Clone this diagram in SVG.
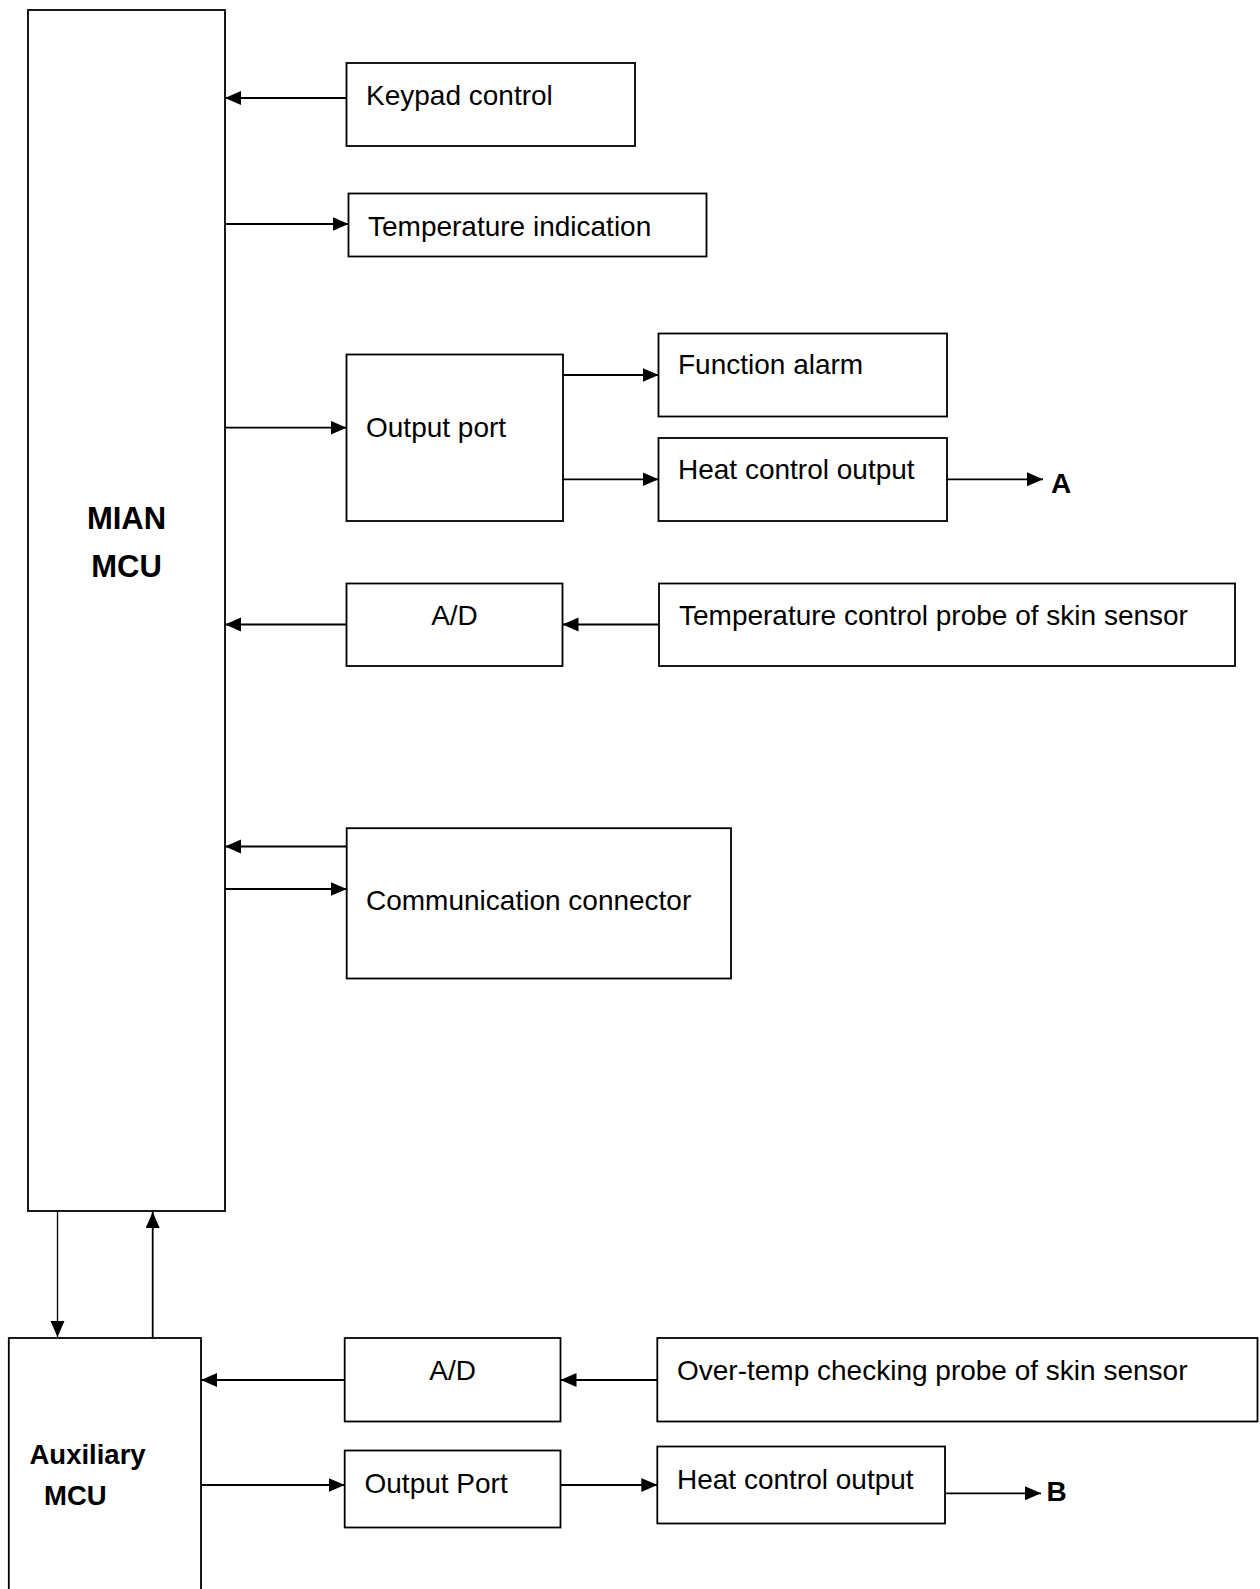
<svg xmlns="http://www.w3.org/2000/svg" width="1260" height="1589" viewBox="0 0 1260 1589">
  <style>
    .box { fill: #ffffff; stroke: #000000; stroke-width: 1.8; }
    .wire { fill: none; stroke: #000000; stroke-width: 1.8; }
    .thin { stroke-width: 1.3; }
    .lbl { font-family: "Liberation Sans", Arial, sans-serif; font-size: 28px; fill: #000000; }
    .bold { font-family: "Liberation Sans", Arial, sans-serif; font-weight: bold; fill: #000000; }
    .mid { text-anchor: middle; }
  </style>
  <defs>
    <marker id="arrow" markerUnits="userSpaceOnUse" markerWidth="17" markerHeight="15" refX="16" refY="7" orient="auto">
      <path d="M0,0 L16,7 L0,14 z" fill="#000000"/>
    </marker>
  </defs>
  <rect x="0" y="0" width="1260" height="1589" fill="#ffffff"/>

  <!-- main controller -->
  <g id="main-mcu">
    <rect class="box" x="28" y="10" width="197" height="1201"/>
    <text class="bold mid" x="126.5" y="529.3" font-size="31">MIAN</text>
    <text class="bold mid" x="126.5" y="576.7" font-size="31">MCU</text>
  </g>

  <g id="keypad-control">
    <rect class="box" x="346.5" y="63" width="288.5" height="83"/>
    <text class="lbl" x="366" y="105">Keypad control</text>
  </g>

  <g id="temperature-indication">
    <rect class="box" x="348.5" y="193.5" width="358" height="63"/>
    <text class="lbl" x="368" y="235.5">Temperature indication</text>
  </g>

  <g id="output-port">
    <rect class="box" x="346.5" y="354.5" width="216.5" height="166.5"/>
    <text class="lbl" x="366" y="436.7">Output port</text>
  </g>

  <g id="function-alarm">
    <rect class="box" x="658.5" y="333.5" width="288.5" height="83"/>
    <text class="lbl" x="678" y="374">Function alarm</text>
  </g>

  <g id="heat-control-output-a">
    <rect class="box" x="658.5" y="438" width="288.5" height="83"/>
    <text class="lbl" x="678" y="478.5">Heat control output</text>
  </g>

  <g id="label-a">
    <text class="bold" x="1051" y="493" font-size="28">A</text>
  </g>

  <g id="ad-main">
    <rect class="box" x="346.5" y="583.5" width="216" height="82.5"/>
    <text class="lbl mid" x="454.5" y="625">A/D</text>
  </g>

  <g id="skin-probe-control">
    <rect class="box" x="659" y="583.5" width="576" height="82.5"/>
    <text class="lbl" x="679" y="625">Temperature control probe of skin sensor</text>
  </g>

  <g id="communication-connector">
    <rect class="box" x="346.7" y="828.2" width="384.3" height="150.3"/>
    <text class="lbl" x="366" y="910">Communication connector</text>
  </g>

  <!-- auxiliary controller, runs off the lower edge -->
  <g id="aux-mcu">
    <rect class="box" x="8.8" y="1338" width="192.2" height="300"/>
    <text class="bold" x="29.5" y="1464" font-size="27.5">Auxiliary</text>
    <text class="bold" x="44" y="1505" font-size="27.5">MCU</text>
  </g>

  <g id="ad-aux">
    <rect class="box" x="344.7" y="1338" width="215.8" height="83.5"/>
    <text class="lbl mid" x="452.6" y="1379.5">A/D</text>
  </g>

  <g id="skin-probe-overtemp">
    <rect class="box" x="657.3" y="1338" width="600.2" height="83.5"/>
    <text class="lbl" x="677" y="1379.5">Over-temp checking probe of skin sensor</text>
  </g>

  <g id="output-port-aux">
    <rect class="box" x="344.7" y="1450.5" width="215.8" height="77"/>
    <text class="lbl" x="364.5" y="1493">Output Port</text>
  </g>

  <g id="heat-control-output-b">
    <rect class="box" x="657.3" y="1446.5" width="287.7" height="77"/>
    <text class="lbl" x="677" y="1489">Heat control output</text>
  </g>

  <g id="label-b">
    <text class="bold" x="1046.5" y="1501" font-size="28">B</text>
  </g>

  <!-- connectors -->
  <g id="connectors">
    <line class="wire" x1="346.5" y1="98" x2="225" y2="98" marker-end="url(#arrow)"/>
    <line class="wire" x1="225" y1="224" x2="348.5" y2="224" marker-end="url(#arrow)"/>
    <line class="wire" x1="225" y1="427.7" x2="346.5" y2="427.7" marker-end="url(#arrow)"/>
    <line class="wire" x1="563" y1="375" x2="658.5" y2="375" marker-end="url(#arrow)"/>
    <line class="wire" x1="563" y1="479.3" x2="658.5" y2="479.3" marker-end="url(#arrow)"/>
    <line class="wire" x1="947" y1="479.3" x2="1043" y2="479.3" marker-end="url(#arrow)"/>
    <line class="wire" x1="659" y1="624.5" x2="562.5" y2="624.5" marker-end="url(#arrow)"/>
    <line class="wire" x1="346.5" y1="624.5" x2="225" y2="624.5" marker-end="url(#arrow)"/>
    <line class="wire" x1="346.7" y1="846.5" x2="225" y2="846.5" marker-end="url(#arrow)"/>
    <line class="wire" x1="225" y1="889" x2="346.7" y2="889" marker-end="url(#arrow)"/>
    <line class="wire thin" x1="57.5" y1="1211" x2="57.5" y2="1337" marker-end="url(#arrow)"/>
    <line class="wire" x1="152.7" y1="1337" x2="152.7" y2="1212" marker-end="url(#arrow)"/>
    <line class="wire" x1="657.3" y1="1380" x2="560.5" y2="1380" marker-end="url(#arrow)"/>
    <line class="wire" x1="344.7" y1="1380" x2="201" y2="1380" marker-end="url(#arrow)"/>
    <line class="wire" x1="201" y1="1485" x2="344.7" y2="1485" marker-end="url(#arrow)"/>
    <line class="wire" x1="560.5" y1="1485" x2="657.3" y2="1485" marker-end="url(#arrow)"/>
    <line class="wire" x1="945" y1="1493.3" x2="1041" y2="1493.3" marker-end="url(#arrow)"/>
  </g>
</svg>
